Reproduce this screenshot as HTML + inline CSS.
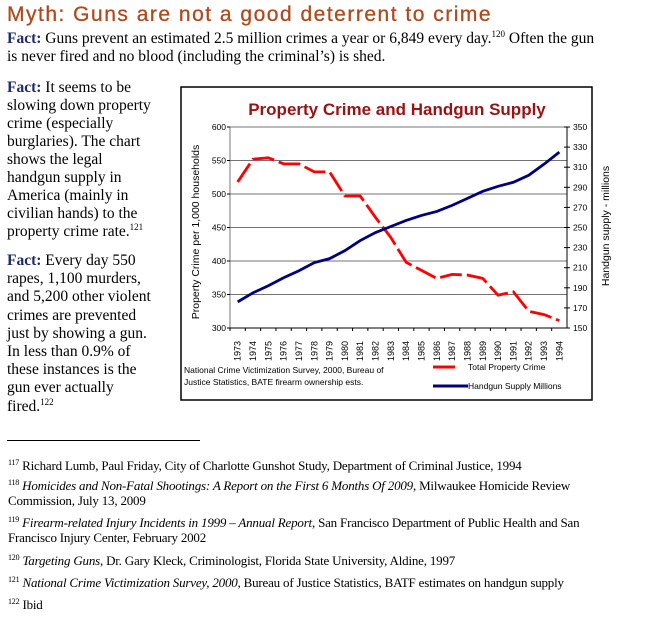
<!DOCTYPE html>
<html><head><meta charset="utf-8">
<style>
body{margin:0;width:651px;height:621px;background:#fff;position:relative;overflow:hidden;font-family:"Liberation Serif",serif;color:#000}
.a{position:absolute;white-space:nowrap}
.t{font-size:15.5px;line-height:18px}
.f{color:#1f2a6b;font-weight:bold}
sup{font-size:9px;vertical-align:6px;line-height:0}
.fn{font-size:13px;line-height:15px;letter-spacing:-0.2px}
.fn sup{font-size:8px;vertical-align:5px}
</style></head><body>
<div class="a" style="left:7px;top:3px;font-family:'Liberation Sans',sans-serif;font-size:21px;color:#b04a1c;letter-spacing:1.5px;-webkit-text-stroke:0.3px #b04a1c">Myth: Guns are not a good deterrent to crime</div>
<div class="a t" style="left:7px;top:30px"><span class="f">Fact:</span> Guns prevent an estimated 2.5 million crimes a year or 6,849 every day.<sup>120</sup> Often the gun</div>
<div class="a t" style="left:7px;top:48px">is never fired and no blood (including the criminal’s) is shed.</div>
<div class="a t" style="left:7px;top:79px;line-height:18px"><span class="f">Fact:</span> It seems to be<br>slowing down property<br>crime (especially<br>burglaries). The chart<br>shows the legal<br>handgun supply in<br>America (mainly in<br>civilian hands) to the<br>property crime rate.<sup>121</sup></div>
<div class="a t" style="left:7px;top:252px;line-height:18.2px"><span class="f">Fact:</span> Every day 550<br>rapes, 1,100 murders,<br>and 5,200 other violent<br>crimes are prevented<br>just by showing a gun.<br>In less than 0.9% of<br>these instances is the<br>gun ever actually<br>fired.<sup>122</sup></div>

<svg class="a" style="left:0;top:0" width="651" height="621" id="s" font-family="Liberation Sans, sans-serif">
<rect x="181" y="87" width="411" height="313" fill="none" stroke="#000" stroke-width="1.5"/>
<text x="397" y="115" text-anchor="middle" font-size="17" font-weight="bold" fill="#9b1212">Property Crime and Handgun Supply</text>
<g id="g"></g>
<text transform="translate(199,232) rotate(-90)" text-anchor="middle" font-size="10.5">Property Crime per 1,000 households</text>
<text transform="translate(609,226) rotate(-90)" text-anchor="middle" font-size="10.5">Handgun supply - millions</text>
<text x="184" y="373" font-size="8.5">National Crime Victimization Survey, 2000, Bureau of</text>
<text x="184" y="385" font-size="8.5">Justice Statistics, BATE firearm ownership ests.</text>
<line x1="433" y1="367" x2="455" y2="367" stroke="#f00" stroke-width="3"/>
<text x="468" y="370" font-size="8.5">Total Property Crime</text>
<line x1="433" y1="386" x2="468" y2="386" stroke="#000080" stroke-width="3"/>
<text x="468" y="389" font-size="8.5">Handgun Supply Millions</text>
</svg>

<div class="a" style="left:7px;top:440px;width:193px;height:1px;background:#000"></div>
<div class="a fn" style="left:8px;top:458px"><sup>117</sup> Richard Lumb, Paul Friday, City of Charlotte Gunshot Study, Department of Criminal Justice, 1994</div>
<div class="a fn" style="left:8px;top:478px"><sup>118</sup> <i>Homicides and Non-Fatal Shootings: A Report on the First 6 Months Of 2009</i>, Milwaukee Homicide Review<br>Commission, July 13, 2009</div>
<div class="a fn" style="left:8px;top:515px"><sup>119</sup> <i>Firearm-related Injury Incidents in 1999 – Annual Report</i>, San Francisco Department of Public Health and San<br>Francisco Injury Center, February 2002</div>
<div class="a fn" style="left:8px;top:553px"><sup>120</sup> <i>Targeting Guns</i>, Dr. Gary Kleck, Criminologist, Florida State University, Aldine, 1997</div>
<div class="a fn" style="left:8px;top:575px"><sup>121</sup> <i>National Crime Victimization Survey, 2000</i>, Bureau of Justice Statistics, BATF estimates on handgun supply</div>
<div class="a fn" style="left:8px;top:597px"><sup>122</sup> Ibid</div>

<script>
var g=document.getElementById('g'),h='';
var L=230,R=567,T=127,B=328;
function yl(v){return B-(v-300)*(B-T)/300}
function yr(v){return B-(v-150)*(B-T)/200}
for(var v=350;v<=550;v+=50)h+='<line x1="'+L+'" y1="'+yl(v)+'" x2="'+R+'" y2="'+yl(v)+'" stroke="#444" stroke-width="0.8"/>';
h+='<line x1="'+L+'" y1="'+T+'" x2="'+L+'" y2="'+B+'" stroke="#777"/><line x1="'+R+'" y1="'+T+'" x2="'+R+'" y2="'+B+'" stroke="#000"/><line x1="'+L+'" y1="'+B+'" x2="'+R+'" y2="'+B+'" stroke="#000"/><line x1="'+L+'" y1="'+T+'" x2="'+R+'" y2="'+T+'" stroke="#777"/>';
for(var v=300;v<=600;v+=50){h+='<line x1="'+(L-3)+'" y1="'+yl(v)+'" x2="'+L+'" y2="'+yl(v)+'" stroke="#000"/><text x="'+(L-4)+'" y="'+(yl(v)+3)+'" font-size="8.5" text-anchor="end">'+v+'</text>';}
for(var v=150;v<=350;v+=20){h+='<line x1="'+(R-3)+'" y1="'+yr(v)+'" x2="'+(R+3)+'" y2="'+yr(v)+'" stroke="#000"/><text x="'+(R+6)+'" y="'+(yr(v)+3)+'" font-size="8.5">'+v+'</text>';}
var st=(R-L)/22;
var c=[518,552,554,545,545,533,533,497,497,465,435,398,386,374,380,379,374,349,354,325,320,311];
var hg=[176,185,192,200,207,215,219,227,237,245,251,257,262,266,272,279,286,291,295,302,313,325];
var pc='',ph='';
for(var i=0;i<22;i++){var x=L+st*(i+0.5);
h+='<line x1="'+(L+st*i)+'" y1="'+B+'" x2="'+(L+st*i)+'" y2="'+(B+3)+'" stroke="#000"/>';
h+='<text transform="translate('+(x+3)+','+(B+23)+') rotate(-90)" font-size="9" text-anchor="middle">'+(1973+i)+'</text>';
pc+=x+','+yl(c[i])+' ';ph+=x+','+yr(hg[i])+' ';}
h+='<polyline points="'+pc+'" fill="none" stroke="#f00" stroke-width="2.8" stroke-dasharray="22,5"/>';
h+='<polyline points="'+ph+'" fill="none" stroke="#000080" stroke-width="2.8"/>';
g.innerHTML=h;
</script>
</body></html>
